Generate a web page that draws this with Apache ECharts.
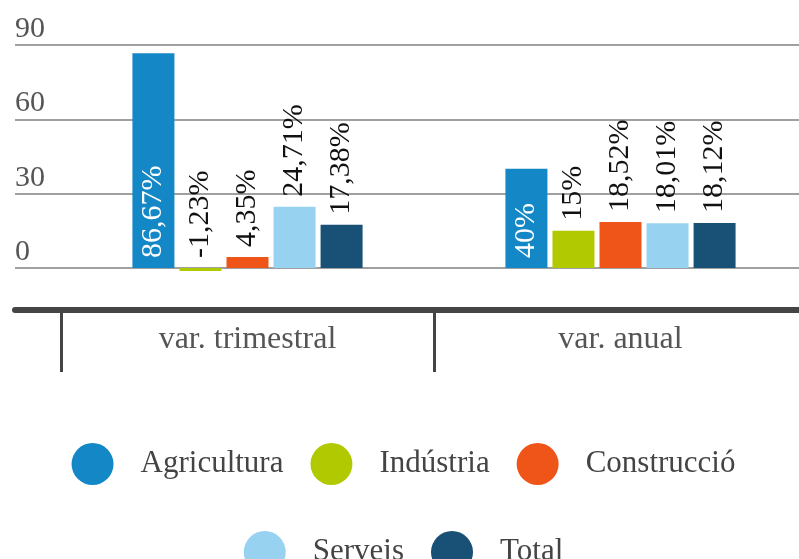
<!DOCTYPE html>
<html>
<head>
<meta charset="utf-8">
<script src="https://cdn.jsdelivr.net/npm/echarts@6/dist/echarts.min.js"></script>
<style>
html, body { margin: 0; padding: 0; background: #fff; overflow: hidden; }
/* the category axis runs a few px past the right edge of the picture */
#chart { width: 807px; height: 559px; }
</style>
</head>
<body>
<div id="chart"></div>
<script>
var categories = ['var. trimestral', 'var. anual'];
var agricultura = [86.67, 40];
var industria = [-1.23, 15];
var construccio = [4.35, 18.52];
var serveis = [24.71, 18.01];
var total = [17.38, 18.12];
var yTicks = { min: 0, max: 90, interval: 30 };

var FONT = '"Liberation Serif", serif';

function pct(v) {
    return String(v.value).replace('.', ',') + '%';
}

function barSeries(name, data, color, inside) {
    return {
        name: name,
        type: 'bar',
        xAxisIndex: 1,
        yAxisIndex: 1,
        data: data,
        barWidth: 42,
        barGap: '12%',
        itemStyle: { color: color },
        label: {
            show: true,
            position: inside ? 'insideBottom' : 'top',
            rotate: 90,
            align: 'left',
            verticalAlign: 'middle',
            distance: 10,
            color: inside ? '#fff' : '#111',
            fontFamily: FONT,
            fontSize: 30,
            formatter: pct
        }
    };
}

var myChart = echarts.init(document.getElementById('chart'));
var legendText = {
    color: '#444',
    fontFamily: FONT,
    fontSize: 31,
    padding: [0, 0, 0, 22]
};
var option = {
    animation: false,
    grid: [
        // gridlines + y labels
        { left: 15, right: 8, top: 45, height: 223 },
        // bars
        { left: 61, right: 0, top: 45, height: 265 }
    ],
    xAxis: [{
        gridIndex: 0,
        type: 'value',
        min: 0,
        max: 1,
        offset: 42,
        axisLine: { show: true, onZero: false, lineStyle: { color: '#444', width: 6 } },
        axisTick: { show: false },
        axisLabel: { show: false },
        splitLine: { show: false }
    }, {
        gridIndex: 1,
        type: 'category',
        data: categories,
        axisLine: { show: false, onZero: false },
        axisTick: { show: true, length: 62, lineStyle: { color: '#444', width: 3 } },
        axisLabel: { margin: 14, color: '#555', fontFamily: FONT, fontSize: 32 }
    }],
    yAxis: [{
        gridIndex: 0,
        type: 'value',
        min: yTicks.min,
        max: yTicks.max,
        interval: yTicks.interval,
        axisLine: { show: false },
        axisTick: { show: false },
        axisLabel: {
            inside: true,
            margin: 0,
            verticalAlign: 'bottom',
            padding: [0, 0, 1, 0],
            color: '#555',
            fontFamily: FONT,
            fontSize: 30
        },
        splitLine: { lineStyle: { color: '#a0a0a0', width: 2 } }
    }, {
        gridIndex: 1,
        type: 'value',
        min: -17,
        max: 90,
        show: false
    }],
    legend: [{
        data: ['Agricultura', 'Indústria', 'Construcció'],
        left: 'center',
        top: 438,
        icon: 'circle',
        itemWidth: 42,
        itemHeight: 42,
        itemGap: 27,
        textStyle: legendText
    }, {
        data: ['Serveis', 'Total'],
        left: 'center',
        top: 526,
        icon: 'circle',
        itemWidth: 42,
        itemHeight: 42,
        itemGap: 27,
        textStyle: legendText
    }],
    series: [
        barSeries('Agricultura', agricultura, '#1487c6', true),
        barSeries('Indústria', industria, '#b1c900', false),
        barSeries('Construcció', construccio, '#ef5419', false),
        barSeries('Serveis', serveis, '#98d2f1', false),
        barSeries('Total', total, '#195075', false)
    ]
};
myChart.setOption(option);
</script>
</body>
</html>
